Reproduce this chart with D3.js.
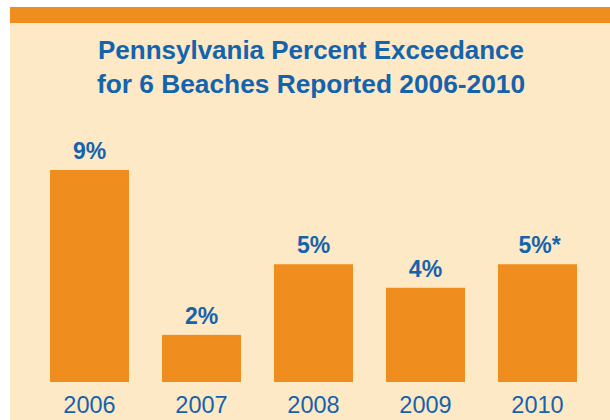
<!DOCTYPE html>
<html>
<head>
<meta charset="utf-8">
<script src="https://cdn.jsdelivr.net/npm/d3@7"></script>
<style>
  body { margin: 0; background: #fff; }
  svg { display: block; }
</style>
</head>
<body>
<svg id="chart"></svg>
<script>
// data
const years = ["2006", "2007", "2008", "2009", "2010"];
const values = [9, 2, 5, 4, 5];
const valueLabels = ["9%", "2%", "5%", "4%", "5%*"];
const titleLines = ["Pennsylvania Percent Exceedance", "for 6 Beaches Reported 2006-2010"];

const W = 610, H = 420;
const orange = "#f08d1f";
const cream = "#fee9c6";
const blue = "#1463ad";

const svg = d3.select("#chart").attr("width", W).attr("height", H);

// panel + top band
svg.append("rect").attr("x", 10).attr("y", 7).attr("width", W - 10).attr("height", H - 7).attr("fill", cream);
svg.append("rect").attr("x", 10).attr("y", 7).attr("width", W - 10).attr("height", 16).attr("fill", orange);

// title
svg.selectAll(".title")
  .data(titleLines)
  .enter().append("text")
  .attr("class", "title")
  .attr("x", 311)
  .attr("y", (d, i) => 59 + i * 34)
  .attr("text-anchor", "middle")
  .attr("textLength", (d, i) => i === 0 ? 426 : 428)
  .attr("lengthAdjust", "spacingAndGlyphs")
  .style("font-family", "'Liberation Sans', Arial, sans-serif")
  .style("font-weight", "bold")
  .style("font-size", "26.5px")
  .style("fill", blue)
  .text(d => d);

const x = d3.scaleBand()
  .domain(years)
  .range([50, 577])
  .paddingInner(0.2946)
  .paddingOuter(0);

const y = d3.scaleLinear()
  .domain([0, 9])
  .range([382, 170]);

const data = years.map((yr, i) => ({ year: yr, value: values[i], label: valueLabels[i] }));

svg.selectAll(".bar")
  .data(data)
  .enter().append("rect")
  .attr("class", "bar")
  .attr("x", d => x(d.year))
  .attr("y", d => y(d.value))
  .attr("width", x.bandwidth())
  .attr("height", d => y(0) - y(d.value))
  .attr("fill", orange);

svg.selectAll(".label")
  .data(data)
  .enter().append("text")
  .attr("class", "label")
  .attr("x", d => x(d.year) + x.bandwidth() / 2 + (d.label.endsWith("*") ? 2 : 0))
  .attr("y", d => y(d.value) - 11)
  .attr("text-anchor", "middle")
  .style("font-family", "'Liberation Sans', Arial, sans-serif")
  .style("font-weight", "bold")
  .style("font-size", "23px")
  .style("fill", blue)
  .text(d => d.label);

// year axis (no line, just labels)
const axis = svg.append("g")
  .attr("transform", `translate(0,${y(0)})`)
  .call(d3.axisBottom(x).tickSize(0).tickPadding(0));
axis.select(".domain").remove();
axis.selectAll("text")
  .attr("y", 31)
  .attr("dy", 0)
  .style("font-family", "'Liberation Sans', Arial, sans-serif")
  .style("font-size", "23.5px")
  .style("fill", blue);
</script>
</body>
</html>
